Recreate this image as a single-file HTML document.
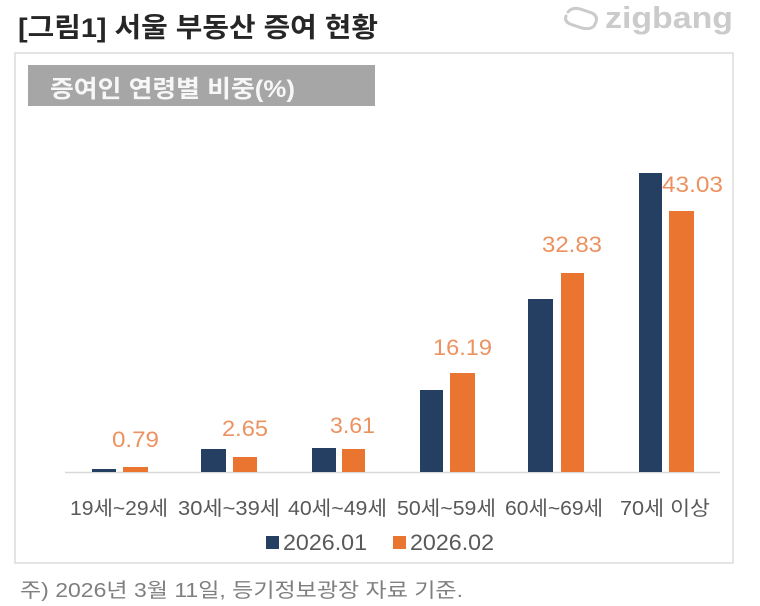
<!DOCTYPE html>
<html><head><meta charset="utf-8"><style>
html,body{margin:0;padding:0;background:#fff;}
svg{display:block;}
</style></head><body>
<svg width="760" height="606" viewBox="0 0 760 606" xmlns="http://www.w3.org/2000/svg">
<rect x="0" y="0" width="760" height="606" fill="#fff"/>
<!-- Title -->
<text x="18" y="37" font-family="'Liberation Sans','Noto Sans CJK KR',sans-serif" font-weight="bold" font-size="27" fill="#262626" textLength="360" lengthAdjust="spacingAndGlyphs">[그림1] 서울 부동산 증여 현황</text>
<!-- Logo -->
<g fill="none" stroke="#cbcbcb" stroke-width="3" stroke-linecap="round">
<path d="M568 12 Q572 7 580 9 L592 13 Q598 16 596 22 L594 26 Q590 30 582 28 L570 24 Q564 21 566 16"/>
</g>
<text x="605" y="28" font-family="'Liberation Sans',sans-serif" font-weight="bold" font-size="31" fill="#cbcbcb" textLength="128" lengthAdjust="spacingAndGlyphs">zigbang</text>
<!-- Panel -->
<rect x="15" y="53" width="718" height="510" fill="#fff" stroke="#dcdcdc" stroke-width="1.5"/>
<rect x="28" y="65" width="347" height="41" fill="#a6a6a6"/>
<text x="50" y="97" font-family="'Liberation Sans','Noto Sans CJK KR',sans-serif" font-weight="bold" font-size="24" fill="#f7f7f7" textLength="245" lengthAdjust="spacingAndGlyphs">증여인 연령별 비중(%)</text>
<!-- Axis -->
<line x1="65" y1="472.5" x2="720" y2="472.5" stroke="#d9d9d9" stroke-width="1.5"/>
<!-- Bars navy -->
<g fill="#243f61">
<rect x="92" y="469" width="24" height="3"/>
<rect x="201" y="449" width="25" height="23"/>
<rect x="312" y="448" width="24" height="24"/>
<rect x="420" y="390" width="23" height="82"/>
<rect x="528" y="299" width="25" height="173"/>
<rect x="639" y="173" width="23" height="299"/>
</g>
<!-- Bars orange -->
<g fill="#e97531">
<rect x="123" y="467" width="25" height="5"/>
<rect x="233" y="457" width="24" height="15"/>
<rect x="342" y="449" width="23" height="23"/>
<rect x="450" y="373" width="25" height="99"/>
<rect x="561" y="273" width="23" height="199"/>
<rect x="669" y="211" width="25" height="261"/>
</g>
<!-- Data labels -->
<g font-family="'Liberation Sans',sans-serif" font-size="22" fill="#ec9260">
<text x="112" y="447" textLength="47" lengthAdjust="spacingAndGlyphs">0.79</text>
<text x="222" y="436" textLength="46" lengthAdjust="spacingAndGlyphs">2.65</text>
<text x="330" y="433" textLength="45" lengthAdjust="spacingAndGlyphs">3.61</text>
<text x="433" y="355" textLength="59" lengthAdjust="spacingAndGlyphs">16.19</text>
<text x="542" y="252" textLength="60" lengthAdjust="spacingAndGlyphs">32.83</text>
<text x="662" y="192" textLength="61" lengthAdjust="spacingAndGlyphs">43.03</text>
</g>
<!-- Category labels -->
<g font-family="'Liberation Sans','Noto Sans CJK KR',sans-serif" font-size="20" fill="#595959">
<text x="70" y="515" textLength="98" lengthAdjust="spacingAndGlyphs">19세~29세</text>
<text x="178" y="515" textLength="102" lengthAdjust="spacingAndGlyphs">30세~39세</text>
<text x="288" y="515" textLength="99" lengthAdjust="spacingAndGlyphs">40세~49세</text>
<text x="397" y="515" textLength="99" lengthAdjust="spacingAndGlyphs">50세~59세</text>
<text x="505" y="515" textLength="98" lengthAdjust="spacingAndGlyphs">60세~69세</text>
<text x="620" y="515" textLength="90" lengthAdjust="spacingAndGlyphs">70세 이상</text>
</g>
<!-- Legend -->
<rect x="266" y="536" width="13" height="13" fill="#243f61"/>
<text x="283" y="550" font-family="'Liberation Sans',sans-serif" font-size="22" fill="#595959" textLength="84" lengthAdjust="spacingAndGlyphs">2026.01</text>
<rect x="393" y="536" width="13" height="13" fill="#e97531"/>
<text x="410" y="550" font-family="'Liberation Sans',sans-serif" font-size="22" fill="#595959" textLength="84" lengthAdjust="spacingAndGlyphs">2026.02</text>
<!-- Footer -->
<text x="20" y="597" font-family="'Liberation Sans','Noto Sans CJK KR',sans-serif" font-size="20" fill="#7f7f7f" textLength="443" lengthAdjust="spacingAndGlyphs">주) 2026년 3월 11일, 등기정보광장 자료 기준.</text>
</svg>
</body></html>
